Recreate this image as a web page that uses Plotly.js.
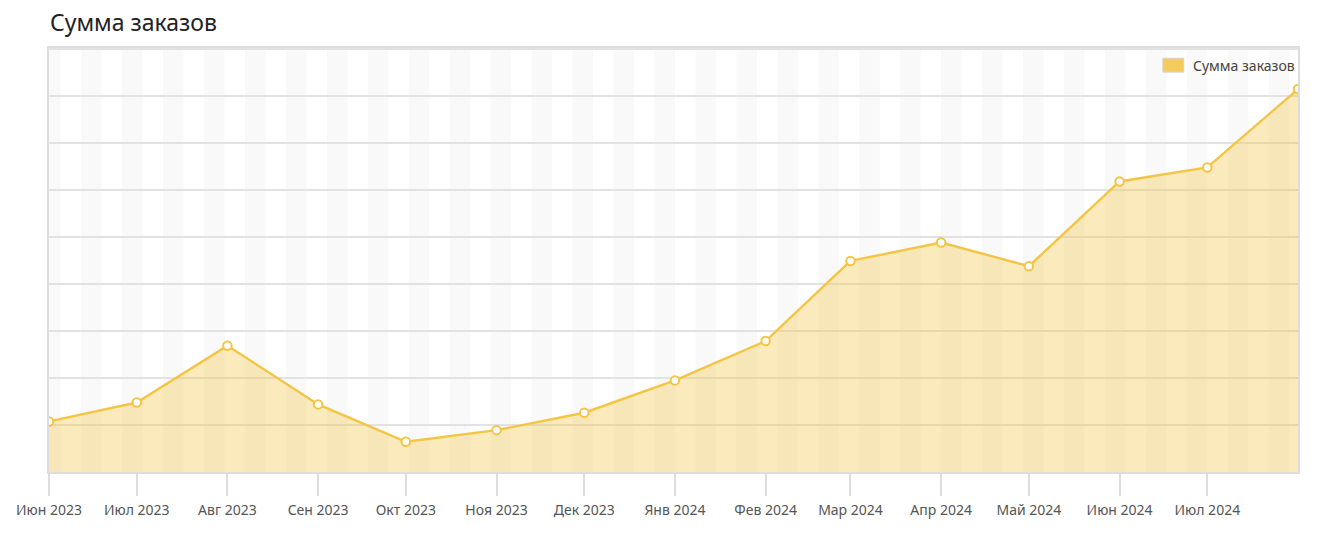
<!DOCTYPE html>
<html>
<head>
<meta charset="utf-8">
<script src="https://cdn.plot.ly/plotly-3.0.1.min.js"></script>
<style>
  html, body { margin: 0; padding: 0; background: #ffffff; }
  #chart { width: 1340px; height: 541px; }
</style>
</head>
<body>
<div id="chart"></div>
<script>
// ---- Data ----
const months = ['2023-06-01','2023-07-01','2023-08-01','2023-09-01','2023-10-01','2023-11-01','2023-12-01',
                '2024-01-01','2024-02-01','2024-03-01','2024-04-01','2024-05-01','2024-06-01','2024-07-01','2024-08-01'];
const orderSums = [1077000, 1480000, 2690000, 1440000, 644000, 891000, 1262000,
                   1951000, 2789000, 4495000, 4887000, 4382000, 6188000, 6486000, 8156000];
const tickDates = ['2023-06-01','2023-07-01','2023-08-01','2023-09-01','2023-10-01','2023-11-01','2023-12-01',
                   '2024-01-01','2024-02-01','2024-03-01','2024-04-01','2024-05-01','2024-06-01','2024-07-01'];
const tickLabels = ['Июн 2023','Июл 2023','Авг 2023','Сен 2023','Окт 2023','Ноя 2023','Дек 2023',
                    'Янв 2024','Фев 2024','Мар 2024','Апр 2024','Май 2024','Июн 2024','Июл 2024'];
const seriesName = 'Сумма заказов';
const chartTitle = 'Сумма заказов';

// ---- Styles ----
const lineColor = '#F4C543';
const fillColor = 'rgba(244,197,67,0.36)';
const gridColor = '#e2e2e2';
const stripeColor = '#f9f9f9';
const fontFamily = '"Noto Sans", "Open Sans", sans-serif';

// Alternating weekly background stripes (every other week, Monday-based)
const xStart = months[0], xEnd = months[months.length - 1];
const shapes = [];
const dayMs = 86400000;
let wk = new Date('2023-05-29T00:00:00Z').getTime();
const endMs = new Date(xEnd + 'T00:00:00Z').getTime();
while (wk < endMs) {
  shapes.push({
    type: 'rect', layer: 'below', xref: 'x', yref: 'paper',
    x0: new Date(wk).toISOString().slice(0,10),
    x1: new Date(wk + 7*dayMs).toISOString().slice(0,10),
    y0: 0, y1: 1, fillcolor: stripeColor, line: {width: 0}
  });
  wk += 14*dayMs;
}
// Legend swatch
shapes.push({
  type: 'rect', xref: 'paper', yref: 'paper',
  x0: 0.8918, x1: 0.9086, y0: 0.943, y1: 0.976,
  fillcolor: '#F5CC5C', line: {color: '#d6d6d6', width: 1}
});

const traces = [
  {
    x: months, y: orderSums, type: 'scatter', mode: 'lines+markers',
    name: seriesName, fill: 'tozeroy', fillcolor: fillColor,
    line: {color: lineColor, width: 2.4},
    marker: {size: 8.5, color: '#ffffff', line: {color: lineColor, width: 2}},
    showlegend: false, hoverinfo: 'x+y'
  }
];

const layout = {
  width: 1340, height: 541,
  margin: {l: 49, r: 42, t: 48, b: 69},
  paper_bgcolor: '#ffffff', plot_bgcolor: '#ffffff',
  font: {family: fontFamily, color: '#555555', size: 14},
  title: {
    text: chartTitle, x: 50/1340, xanchor: 'left', xref: 'container',
    y: 1 - 23/541, yanchor: 'middle', yref: 'container',
    font: {family: fontFamily, size: 23, color: '#222222'}
  },
  showlegend: false,
  xaxis: {
    type: 'date', range: [xStart, xEnd],
    tickmode: 'array', tickvals: tickDates, ticktext: tickLabels,
    ticks: 'outside', ticklen: 22, tickwidth: 1.5, tickcolor: '#dddddd',
    ticklabelstandoff: 2,
    tickfont: {size: 14, color: '#555555', family: fontFamily},
    showgrid: false, zeroline: false,
    showline: true, linecolor: '#dddddd', linewidth: 2, mirror: true,
    fixedrange: true
  },
  yaxis: {
    range: [0, 9030000], dtick: 1000000, tick0: 0,
    showticklabels: false, ticks: '',
    showgrid: true, gridcolor: gridColor, gridwidth: 1.5,
    zeroline: false,
    showline: true, linecolor: '#dddddd', linewidth: 2, mirror: true,
    fixedrange: true
  },
  shapes: shapes,
  annotations: [{
    text: seriesName, xref: 'paper', yref: 'paper',
    x: 0.9146, y: 0.9595, xanchor: 'left', yanchor: 'middle',
    showarrow: false, font: {family: fontFamily, size: 14, color: '#444444'}
  }]
};

Plotly.newPlot('chart', traces, layout, {displayModeBar: false});
</script>
</body>
</html>
